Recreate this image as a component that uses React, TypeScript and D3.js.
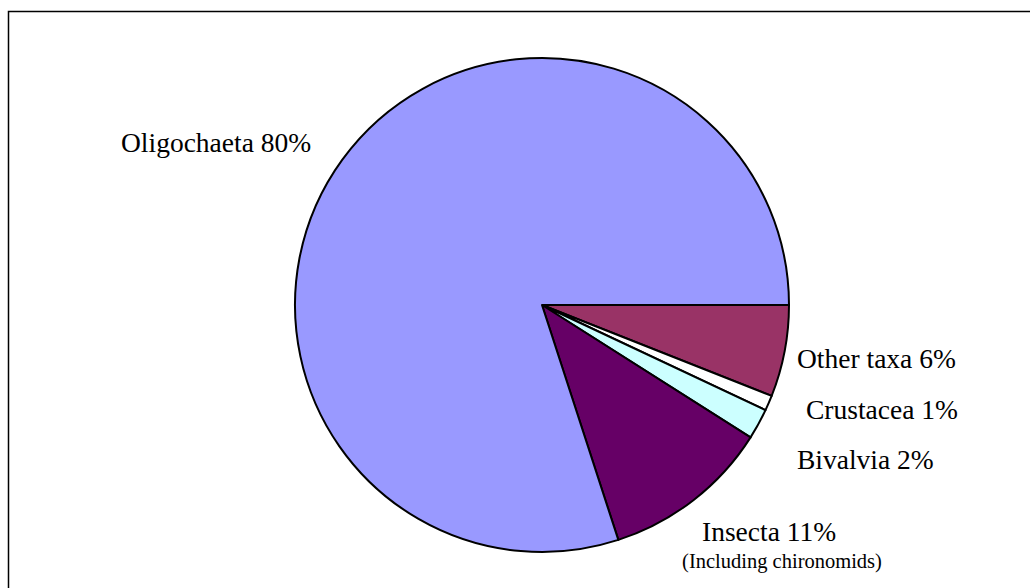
import React from "react";
import * as d3 from "d3";

// clockwise from 3 o'clock
const taxa = ["Other taxa", "Crustacea", "Bivalvia", "Insecta", "Oligochaeta"];
const shares = [6, 1, 2, 11, 80];
const sliceColors = ["#993366", "#FFFFFF", "#CCFFFF", "#660066", "#9999FF"];

// label anchor (left x, baseline y) for each taxon
const labelPos: Record<string, [number, number]> = {
  "Other taxa": [797, 368],
  Crustacea: [806, 419],
  Bivalvia: [797, 469],
  Insecta: [702, 541],
  Oligochaeta: [121, 152],
};

const W = 1030;
const H = 588;
const cx = 542;
const cy = 305;
const r = 247;
const font = "'Liberation Serif', 'Times New Roman', serif";

export default function App() {
  const pie = d3
    .pie<number>()
    .sort(null)
    .value((d) => d)
    .startAngle(Math.PI / 2)
    .endAngle(Math.PI / 2 + 2 * Math.PI);
  const arc = d3.arc<d3.PieArcDatum<number>>().innerRadius(0).outerRadius(r);
  const arcs = pie(shares);

  return (
    <svg
      width={W}
      height={H}
      style={{ position: "absolute", left: 0, top: 0, background: "#fff" }}
    >
      <rect x={8.5} y={11.5} width={W + 10} height={H + 10} fill="#fff" stroke="#000" strokeWidth={1.5} />

      <g transform={`translate(${cx},${cy})`}>
        {arcs.map((a, i) => (
          <path key={taxa[i]} d={arc(a)!} fill={sliceColors[i]} stroke="#000" strokeWidth={2} strokeLinejoin="round" />
        ))}
      </g>

      {taxa.map((t, i) => {
        const [x, y] = labelPos[t];
        return (
          <text key={t} x={x} y={y} fontFamily={font} fontSize={27.5} fill="#000">
            {`${t} ${shares[i]}%`}
          </text>
        );
      })}
      <text x={782} y={568} textAnchor="middle" fontFamily={font} fontSize={20.5} fill="#000">
        (Including chironomids)
      </text>
    </svg>
  );
}
